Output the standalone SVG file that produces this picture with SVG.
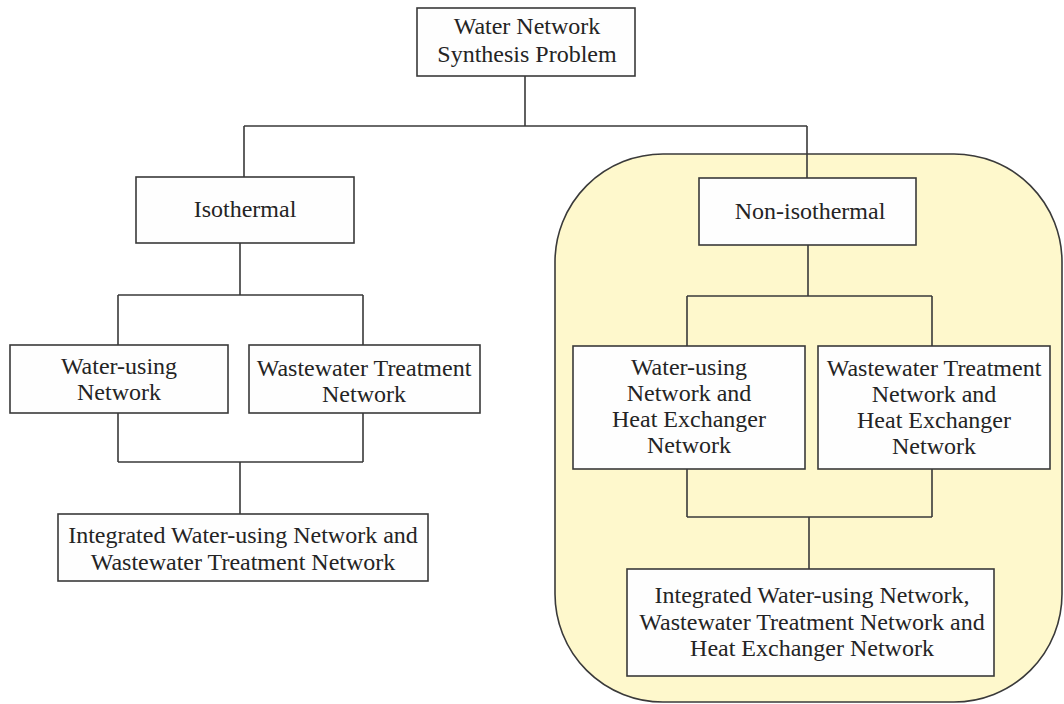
<svg xmlns="http://www.w3.org/2000/svg" width="1064" height="704" viewBox="0 0 1064 704">
<style>
.bg{fill:#ffffff}
.region{fill:#fef8cc;stroke:#3a3a3a;stroke-width:1.6}
.box{fill:#fefefe;stroke:#3a3a3a;stroke-width:1.6}
.conn{fill:none;stroke:#3a3a3a;stroke-width:1.6}
text{font-family:"Liberation Serif","Times New Roman",serif;font-size:24px;fill:#242424;text-anchor:middle}
</style>
<rect class="bg" x="0" y="0" width="1064" height="704"/>
<g id="nonisothermal-region">
<rect class="region" x="555" y="154" width="507" height="548" rx="108" ry="108"/>
</g>
<g id="connectors">
<path class="conn" d="M525,76 V126 M244,126 H807 M244,126 V177 M807,126 V178"/>
<path class="conn" d="M240,243 V295 M118,295 H363 M118,295 V345 M363,295 V345"/>
<path class="conn" d="M118,413 V462 M363,413 V462 M118,462 H363 M240,462 V514"/>
<path class="conn" d="M808,245 V296 M687,296 H932 M687,296 V346 M932,296 V346"/>
<path class="conn" d="M687,469 V517 M932,469 V517 M687,517 H932 M809,517 V569"/>
</g>
<g id="node-root">
<rect class="box" x="417" y="8" width="218" height="68"/>
<text x="527" y="34">Water Network</text>
<text x="527" y="62">Synthesis Problem</text>
</g>
<g id="node-isothermal">
<rect class="box" x="136" y="177" width="218" height="66"/>
<text x="245" y="217">Isothermal</text>
</g>
<g id="node-water-using">
<rect class="box" x="10" y="345" width="218" height="68"/>
<text x="119" y="374">Water-using</text>
<text x="119" y="400">Network</text>
</g>
<g id="node-wastewater">
<rect class="box" x="249" y="345" width="231" height="68"/>
<text x="364" y="376">Wastewater Treatment</text>
<text x="364" y="402">Network</text>
</g>
<g id="node-integrated-iso">
<rect class="box" x="58" y="514" width="370" height="67"/>
<text x="243" y="543">Integrated Water-using Network and</text>
<text x="243" y="570">Wastewater Treatment Network</text>
</g>
<g id="node-nonisothermal">
<rect class="box" x="699" y="178" width="217" height="67"/>
<text x="810" y="219">Non-isothermal</text>
</g>
<g id="node-water-using-hen">
<rect class="box" x="573" y="346" width="232" height="123"/>
<text x="689" y="375">Water-using</text>
<text x="689" y="401">Network and</text>
<text x="689" y="427">Heat Exchanger</text>
<text x="689" y="453">Network</text>
</g>
<g id="node-wastewater-hen">
<rect class="box" x="818" y="346" width="232" height="123"/>
<text x="934" y="376">Wastewater Treatment</text>
<text x="934" y="402">Network and</text>
<text x="934" y="428">Heat Exchanger</text>
<text x="934" y="454">Network</text>
</g>
<g id="node-integrated-noniso">
<rect class="box" x="627" y="569" width="367" height="107"/>
<text x="812" y="603">Integrated Water-using Network,</text>
<text x="812" y="630">Wastewater Treatment Network and</text>
<text x="812" y="656">Heat Exchanger Network</text>
</g>
</svg>
